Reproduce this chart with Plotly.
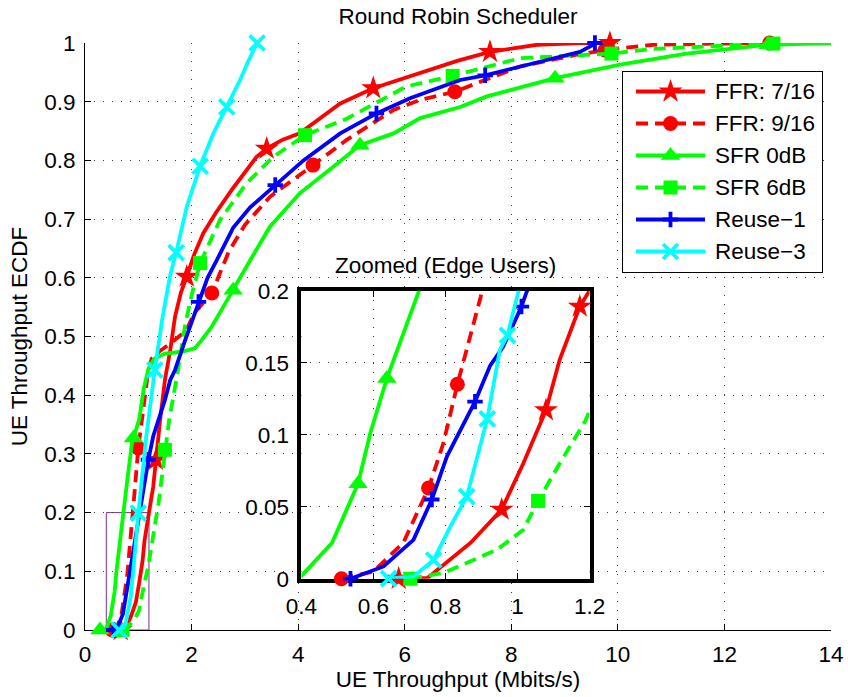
import plotly.graph_objects as go

# ---------------- data ----------------
series_names = ["FFR: 7/16", "FFR: 9/16", "SFR 0dB", "SFR 6dB", "Reuse\u22121", "Reuse\u22123"]

# FFR 7/16
ffr716_x = [0.67, 0.75, 0.87, 0.956, 1.016, 1.079, 1.117, 1.173, 1.2, 1.28, 1.33, 1.41, 1.5, 1.6, 1.69, 1.8,
            1.91, 2.05, 2.22, 2.45, 2.78, 3.0, 3.22, 3.41, 3.7, 4.03, 4.79, 5.41, 6.35, 7.0, 7.6, 8.48, 9.29, 9.85]
ffr716_y = [0.0, 0.0005, 0.025, 0.048, 0.080, 0.117, 0.152, 0.189, 0.2, 0.244, 0.29, 0.358, 0.426, 0.477, 0.534, 0.575,
            0.602, 0.64, 0.676, 0.71, 0.753, 0.78, 0.806, 0.82, 0.835, 0.846, 0.897, 0.923, 0.951, 0.97, 0.985, 0.997, 1.0, 1.0]
ffr716_mx = [0.67, 1.33, 1.91, 3.41, 5.41, 7.6, 9.85]
ffr716_my = [0.0, 0.29, 0.602, 0.82, 0.923, 0.985, 1.0]
ffr716_ix = [0.67, 0.956, 1.079, 1.173]
ffr716_iy = [0.0, 0.048, 0.117, 0.189]

# FFR 9/16
ffr916_x = [0.511, 0.6, 0.683, 0.753, 0.794, 0.833, 0.898, 0.94, 1.0, 1.09, 1.17, 1.25, 1.4, 1.6, 1.9, 2.05,
            2.38, 2.7, 3.0, 3.47, 3.91, 4.28, 4.91, 5.79, 6.29, 6.94, 8.16, 9.23, 9.76, 10.66, 11.9, 12.9]
ffr916_y = [0.0, 0.005, 0.025, 0.063, 0.094, 0.135, 0.196, 0.245, 0.31, 0.37, 0.43, 0.462, 0.475, 0.488, 0.51, 0.54,
            0.574, 0.645, 0.69, 0.738, 0.767, 0.792, 0.835, 0.886, 0.903, 0.917, 0.96, 0.98, 0.988, 0.997, 0.999, 1.0]
ffr916_mx = [0.511, 1.0, 2.38, 4.28, 6.94, 9.76, 12.85]
ffr916_my = [0.0, 0.31, 0.574, 0.792, 0.917, 0.988, 1.0]
ffr916_ix = [0.511, 0.753, 0.833]
ffr916_iy = [0.0, 0.063, 0.135]

# SFR 0dB
sfr0_x = [0.28, 0.4, 0.485, 0.557, 0.591, 0.637, 0.725, 0.8, 0.88, 0.95, 1.02, 1.1, 1.19, 1.3, 1.5, 1.81, 2.06,
          2.2, 2.38, 2.63, 2.81, 3.1, 3.47, 4.03, 4.66, 5.16, 5.79, 6.29, 7.04, 7.54, 8.82, 10.04, 11.29, 12.54, 12.82, 14.0]
sfr0_y = [0.0, 0.002, 0.025, 0.066, 0.101, 0.139, 0.199, 0.26, 0.318, 0.34, 0.36, 0.41, 0.445, 0.462, 0.471, 0.474, 0.48,
          0.495, 0.517, 0.556, 0.585, 0.63, 0.687, 0.744, 0.789, 0.826, 0.846, 0.872, 0.891, 0.909, 0.94, 0.963, 0.982, 0.994, 0.997, 1.0]
sfr0_mx = [0.28, 0.91, 2.78, 5.16, 8.82, 12.82]
sfr0_my = [0.0, 0.327, 0.579, 0.826, 0.94, 0.997]
sfr0_ix = [0.557, 0.637]
sfr0_iy = [0.066, 0.139]

# SFR 6dB
sfr6_x = [0.702, 0.794, 0.942, 1.016, 1.057, 1.117, 1.187, 1.38, 1.5, 1.58, 1.75, 1.88, 2.0, 2.16, 2.53, 3.03,
          3.53, 4.13, 4.91, 6.03, 6.9, 8.16, 9.88, 10.66, 11.9, 12.92, 13.1]
sfr6_y = [0.0, 0.004, 0.020, 0.034, 0.054, 0.080, 0.109, 0.216, 0.307, 0.358, 0.445, 0.52, 0.57, 0.625, 0.698, 0.761,
          0.806, 0.843, 0.871, 0.926, 0.944, 0.974, 0.982, 0.99, 0.995, 0.999, 1.0]
sfr6_mx = [0.702, 1.5, 2.16, 4.13, 6.9, 9.88, 12.92]
sfr6_my = [0.0, 0.307, 0.625, 0.843, 0.944, 0.982, 0.999]
sfr6_ix = [0.702, 1.057]
sfr6_iy = [0.0, 0.054]

# Reuse-1
reuse1_x = [0.536, 0.628, 0.711, 0.762, 0.804, 0.882, 0.924, 0.96, 1.011, 1.025, 1.19, 1.28, 1.38, 1.5, 1.6, 1.69,
            1.88, 2.13, 2.3, 2.5, 2.78, 3.1, 3.57, 4.1, 4.79, 5.47, 6.1, 7.04, 7.51, 8.54, 9.29, 9.6]
reuse1_y = [0.0, 0.0085, 0.027, 0.055, 0.085, 0.123, 0.148, 0.161, 0.189, 0.199, 0.29, 0.33, 0.358, 0.392, 0.426, 0.443,
            0.494, 0.559, 0.6, 0.635, 0.685, 0.72, 0.758, 0.80, 0.846, 0.88, 0.906, 0.937, 0.945, 0.968, 0.985, 1.0]
reuse1_mx = [0.536, 1.19, 2.13, 3.57, 5.47, 7.51, 9.57]
reuse1_my = [0.0, 0.29, 0.559, 0.758, 0.88, 0.945, 1.0]
reuse1_ix = [0.536, 0.762, 0.882, 1.011]
reuse1_iy = [0.0, 0.055, 0.123, 0.189]

# Reuse-3
reuse3_x = [0.642, 0.711, 0.767, 0.813, 0.859, 0.916, 0.951, 0.972, 1.002, 1.15, 1.31, 1.45, 1.6, 1.71, 1.91,
            2.16, 2.41, 2.66, 2.91, 3.06, 3.23]
reuse3_y = [0.0, 0.0016, 0.013, 0.036, 0.057, 0.111, 0.159, 0.169, 0.199, 0.33, 0.443, 0.53, 0.605, 0.643, 0.721,
            0.79, 0.846, 0.891, 0.937, 0.968, 1.0]
reuse3_mx = [0.642, 1.0, 1.31, 1.71, 2.16, 2.66, 3.23]
reuse3_my = [0.0, 0.199, 0.443, 0.643, 0.79, 0.891, 1.0]
reuse3_ix = [0.642, 0.767, 0.859, 0.916, 0.972]
reuse3_iy = [0.0, 0.013, 0.057, 0.111, 0.169]

main_xticks = [0, 2, 4, 6, 8, 10, 12, 14]
main_yticks = [0, 0.1, 0.2, 0.3, 0.4, 0.5, 0.6, 0.7, 0.8, 0.9, 1]
main_yticktext = ["0", "0.1", "0.2", "0.3", "0.4", "0.5", "0.6", "0.7", "0.8", "0.9", "1"]
inset_xticks = [0.4, 0.6, 0.8, 1.0, 1.2]
inset_xticktext = ["0.4", "0.6", "0.8", "1", "1.2"]
inset_yticks = [0, 0.05, 0.1, 0.15, 0.2]
inset_yticktext = ["0", "0.05", "0.1", "0.15", "0.2"]
zoom_box_x = [0.4, 1.2]
zoom_box_y = [0.0, 0.2]

# ---------------- styles ----------------
FONT = "Liberation Sans, Arial, Helvetica, sans-serif"
FS = 22.5
LW = 3.8
styles = [
    dict(color="#FF0000", dash="solid", symbol="star", size=18, mline=0),
    dict(color="#FF0000", dash="12px,7px", symbol="circle", size=15, mline=0),
    dict(color="#00FF00", dash="solid", symbol="triangle-up", size=17, mline=0),
    dict(color="#00FF00", dash="12px,7px", symbol="square", size=14, mline=0),
    dict(color="#0000FF", dash="solid", symbol="cross-thin", size=11, mline=3.8),
    dict(color="#00FFFF", dash="solid", symbol="x-thin", size=15, mline=3.8),
]
curves = [
    (ffr716_x, ffr716_y, ffr716_mx, ffr716_my, ffr716_ix, ffr716_iy),
    (ffr916_x, ffr916_y, ffr916_mx, ffr916_my, ffr916_ix, ffr916_iy),
    (sfr0_x, sfr0_y, sfr0_mx, sfr0_my, sfr0_ix, sfr0_iy),
    (sfr6_x, sfr6_y, sfr6_mx, sfr6_my, sfr6_ix, sfr6_iy),
    (reuse1_x, reuse1_y, reuse1_mx, reuse1_my, reuse1_ix, reuse1_iy),
    (reuse3_x, reuse3_y, reuse3_mx, reuse3_my, reuse3_ix, reuse3_iy),
]


def marker_of(st):
    m = dict(symbol=st["symbol"], size=st["size"], color=st["color"])
    if st["mline"]:
        m["line"] = dict(color=st["color"], width=st["mline"])
    else:
        m["line"] = dict(width=0)
    return m


fig = go.Figure()

for name, st, (cx, cy, mx, my, ix, iy) in zip(series_names, styles, curves):
    # main axes
    fig.add_trace(go.Scatter(x=cx, y=cy, mode="lines", name=name, showlegend=False,
                             line=dict(color=st["color"], width=LW, dash=st["dash"]),
                             xaxis="x", yaxis="y"))
    fig.add_trace(go.Scatter(x=mx, y=my, mode="markers", name=name, showlegend=False,
                             marker=marker_of(st), cliponaxis=False, xaxis="x", yaxis="y"))
for name, st, (cx, cy, mx, my, ix, iy) in zip(series_names, styles, curves):
    # inset axes
    fig.add_trace(go.Scatter(x=cx, y=cy, mode="lines", name=name, showlegend=False,
                             line=dict(color=st["color"], width=LW, dash=st["dash"]),
                             xaxis="x2", yaxis="y2"))
    fig.add_trace(go.Scatter(x=ix, y=iy, mode="markers", name=name, showlegend=False,
                             marker=marker_of(st), cliponaxis=False, xaxis="x2", yaxis="y2"))

# legend drawn in its own small axes (long MATLAB-style line samples)
leg_rows = [180.5, 148.5, 116.5, 84.5, 52.5, 20.5]
leg_line_x = [13, 82]
leg_mark_x = 47.5
leg_text_x = 90
for name, st, ry in zip(series_names, styles, leg_rows):
    fig.add_trace(go.Scatter(x=leg_line_x, y=[ry, ry], mode="lines", showlegend=False, name=name,
                             line=dict(color=st["color"], width=LW, dash=st["dash"]),
                             xaxis="x3", yaxis="y3", hoverinfo="skip"))
    fig.add_trace(go.Scatter(x=[leg_mark_x], y=[ry], mode="markers", showlegend=False, name=name,
                             marker=marker_of(st), xaxis="x3", yaxis="y3", hoverinfo="skip"))
    fig.add_annotation(x=leg_text_x, y=ry, xref="x3", yref="y3", text=name, showarrow=False,
                       xanchor="left", yanchor="middle", font=dict(family=FONT, size=FS, color="black"))

# zoom rectangle on main axes
fig.add_shape(type="rect", xref="x", yref="y", x0=zoom_box_x[0], x1=zoom_box_x[1],
              y0=zoom_box_y[0], y1=zoom_box_y[1], line=dict(color="#7E2F8E", width=1), layer="below")

grid_common = dict(showgrid=True, gridcolor="#3a3a3a", gridwidth=1, griddash="1px,8px", zeroline=False)
tickfont = dict(family=FONT, size=FS, color="black")

fig.update_layout(
    width=848, height=697,
    margin=dict(l=85, r=17, t=43, b=67),
    paper_bgcolor="white", plot_bgcolor="white",
    font=dict(family=FONT, size=FS, color="black"),
    showlegend=False,
    title=dict(text="Round Robin Scheduler", x=0.5, xref="paper", xanchor="center",
               y=1 - 16 / 697, yref="container", yanchor="middle",
               font=dict(family=FONT, size=FS, color="black")),
    xaxis=dict(domain=[0, 1], range=[0, 14], tickmode="array", tickvals=main_xticks,
               ticks="inside", ticklen=6, tickwidth=1, tickcolor="black",
               showline=True, linecolor="black", linewidth=1, mirror=False,
               tickfont=tickfont, ticklabelstandoff=4, layer="below traces", automargin=False,
               title=dict(text="UE Throughput (Mbits/s)", standoff=2, font=dict(family=FONT, size=FS)),
               **grid_common),
    yaxis=dict(domain=[0, 1], range=[0, 1], tickmode="array", tickvals=main_yticks, ticktext=main_yticktext,
               ticks="inside", ticklen=6, tickwidth=1, tickcolor="black",
               showline=True, linecolor="black", linewidth=1, mirror=False,
               tickfont=tickfont, ticklabelstandoff=4, layer="below traces", automargin=False,
               title=dict(text="UE Throughput ECDF", standoff=10, font=dict(family=FONT, size=FS)),
               **grid_common),
    xaxis2=dict(domain=[0.2902, 0.6763], range=[0.4, 1.2], anchor="y2",
                tickmode="array", tickvals=inset_xticks, ticktext=inset_xticktext,
                ticks="inside", ticklen=6, tickwidth=1, tickcolor="black",
                showline=True, linecolor="black", linewidth=4, mirror="ticks", automargin=False,
                tickfont=tickfont, ticklabelstandoff=4, layer="below traces", **grid_common),
    yaxis2=dict(domain=[0.0874, 0.5780], range=[0, 0.2], anchor="x2",
                tickmode="array", tickvals=inset_yticks, ticktext=inset_yticktext,
                ticks="inside", ticklen=6, tickwidth=1, tickcolor="black",
                showline=True, linecolor="black", linewidth=4, mirror="ticks", automargin=False,
                tickfont=tickfont, ticklabelstandoff=4, layer="below traces", **grid_common),
    xaxis3=dict(domain=[0.7212, 0.9879], range=[0, 199], anchor="y3", showgrid=False, zeroline=False,
                showticklabels=False, ticks="", showline=True, linecolor="black", linewidth=1, mirror=True,
                fixedrange=True, automargin=False),
    yaxis3=dict(domain=[0.6099, 0.9506], range=[0, 200], anchor="x3", showgrid=False, zeroline=False,
                showticklabels=False, ticks="", showline=True, linecolor="black", linewidth=1, mirror=True,
                fixedrange=True, automargin=False),
)

fig.add_annotation(text="Zoomed (Edge Users)", x=0.4833, y=0.6206, xref="paper", yref="paper",
                   showarrow=False, xanchor="center", yanchor="middle",
                   font=dict(family=FONT, size=FS, color="black"))

fig.write_html("out.html")
